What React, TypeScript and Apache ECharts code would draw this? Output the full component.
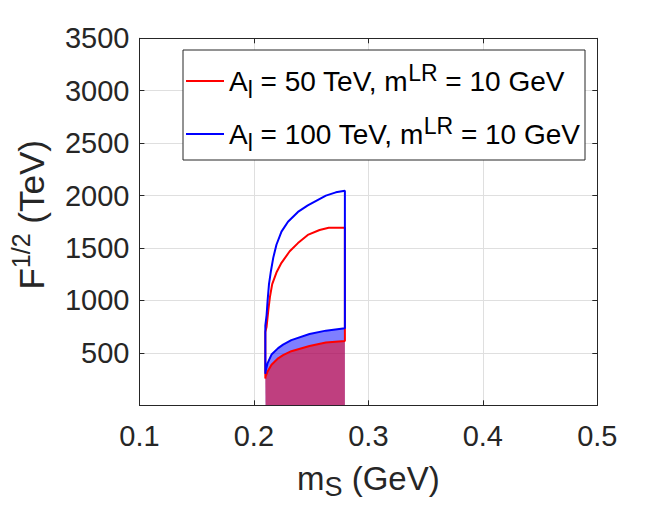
import React, { useEffect, useRef } from "react";
import * as echarts from "echarts";

const FONT = "'Liberation Sans', Arial, Helvetica, sans-serif";
const AXIS_COLOR = "#262626";

// axis ranges
const xMin = 0.1;
const xMax = 0.5;
const xStep = 0.1;
const yMin = 0;
const yMax = 3500;
const yStep = 500;

// series names (legend)
const seriesNames = ["A_l = 50 TeV, m^LR = 10 GeV", "A_l = 100 TeV, m^LR = 10 GeV"];
const legendLabels = [
  "A{sub|l} = 50 TeV, m{sup|LR} = 10 GeV",
  "A{sub|l} = 100 TeV, m{sup|LR} = 10 GeV",
];

// A_l = 50 TeV (red): lower and upper boundaries [m_S, F^1/2]
const redLower: [number, number][] = [
  [0.21, 255], [0.2102, 274], [0.212, 323], [0.2154, 387], [0.2212, 448],
  [0.2255, 478], [0.2327, 516], [0.2486, 565], [0.2629, 598], [0.2795, 614],
];
const redUpper: [number, number][] = [
  [0.21, 700], [0.2111, 750], [0.2126, 906], [0.214, 1031], [0.216, 1156],
  [0.2197, 1266], [0.2241, 1359], [0.2313, 1469], [0.2385, 1547], [0.2471, 1625],
  [0.2574, 1672], [0.2654, 1694], [0.2795, 1694],
];

// A_l = 100 TeV (blue): lower and upper boundaries
const blueLower: [number, number][] = [
  [0.21, 300], [0.2102, 323], [0.212, 403], [0.2154, 484], [0.2212, 545],
  [0.2255, 578], [0.2327, 622], [0.2486, 680], [0.2629, 712], [0.2795, 735],
];
const blueUpper: [number, number][] = [
  [0.21, 760], [0.2111, 860], [0.212, 1000], [0.2132, 1156], [0.2149, 1281],
  [0.2169, 1406], [0.2197, 1531], [0.2241, 1656], [0.2298, 1750], [0.2385, 1844],
  [0.2471, 1906], [0.2629, 2000], [0.2716, 2031], [0.2795, 2047],
];

function outline(lower: [number, number][], upper: [number, number][]) {
  return [...lower, ...upper.slice().reverse(), lower[0]];
}

export default function App() {
  const ref = useRef<HTMLDivElement>(null);
  useEffect(() => {
    if (!ref.current) return;
    const chart = echarts.init(ref.current, undefined, { renderer: "svg" });
    const tickFont = { fontFamily: FONT, fontSize: 29, color: AXIS_COLOR };
    chart.setOption({
      animation: false,
      grid: { left: 134.7, right: 63.7, top: 38.3, bottom: 104.7 },
      legend: {
        data: [
          { name: seriesNames[0], icon: "rect" },
          { name: seriesNames[1], icon: "rect" },
        ],
        orient: "vertical",
        left: 183,
        top: 50,
        padding: [11, 5, 6, 3],
        itemGap: 13,
        itemWidth: 38,
        itemHeight: 2,
        selectedMode: false,
        backgroundColor: "#ffffff",
        borderColor: AXIS_COLOR,
        borderWidth: 1,
        formatter: (name: string) => legendLabels[seriesNames.indexOf(name)],
        textStyle: {
          fontFamily: FONT,
          fontSize: 28,
          color: "#000000",
          lineHeight: 40,
          rich: {
            sub: { fontFamily: FONT, fontSize: 23, lineHeight: 17, verticalAlign: "bottom", color: "#000" },
            sup: { fontFamily: FONT, fontSize: 23, lineHeight: 26, verticalAlign: "top", color: "#000" },
          },
        },
      },
      xAxis: [
        {
          type: "value",
          min: xMin,
          max: xMax,
          interval: xStep,
          name: "m{sub|S} (GeV)",
          nameLocation: "middle",
          nameGap: 51,
          nameTextStyle: {
            fontFamily: FONT,
            fontSize: 33,
            color: AXIS_COLOR,
            lineHeight: 44,
            rich: {
              sub: { fontFamily: FONT, fontSize: 27, lineHeight: 14, verticalAlign: "bottom", color: AXIS_COLOR },
            },
          },
          axisLine: { show: true, onZero: false, lineStyle: { color: AXIS_COLOR, width: 1 } },
          axisTick: { show: true, inside: true, length: 5, lineStyle: { color: AXIS_COLOR } },
          axisLabel: { ...tickFont, margin: 16, formatter: (v: number) => v.toFixed(1) },
          splitLine: { show: true, lineStyle: { color: "#dfdfdf", width: 1 } },
        },
        {
          type: "value",
          position: "top",
          min: xMin,
          max: xMax,
          interval: xStep,
          axisLine: { show: true, onZero: false, lineStyle: { color: AXIS_COLOR, width: 1 } },
          axisTick: { show: true, inside: true, length: 5, lineStyle: { color: AXIS_COLOR } },
          axisLabel: { show: false },
          splitLine: { show: false },
        },
      ],
      yAxis: [
        {
          type: "value",
          min: yMin,
          max: yMax,
          interval: yStep,
          name: "F{sup|1/2} (TeV)",
          nameLocation: "middle",
          nameRotate: 90,
          nameGap: 79,
          nameTextStyle: {
            fontFamily: FONT,
            fontSize: 35,
            color: AXIS_COLOR,
            lineHeight: 46,
            padding: [0, 0, 0, 14],
            rich: {
              sup: { fontFamily: FONT, fontSize: 25, lineHeight: 26, verticalAlign: "top", color: AXIS_COLOR },
            },
          },
          axisLine: { show: true, onZero: false, lineStyle: { color: AXIS_COLOR, width: 1 } },
          axisTick: { show: true, inside: true, length: 5, lineStyle: { color: AXIS_COLOR } },
          axisLabel: { ...tickFont, margin: 10, formatter: (v: number) => (v === 0 ? "" : String(v)) },
          splitLine: { show: true, lineStyle: { color: "#dfdfdf", width: 1 } },
        },
        {
          type: "value",
          position: "right",
          min: yMin,
          max: yMax,
          interval: yStep,
          axisLine: { show: true, onZero: false, lineStyle: { color: AXIS_COLOR, width: 1 } },
          axisTick: { show: true, inside: true, length: 5, lineStyle: { color: AXIS_COLOR } },
          axisLabel: { show: false },
          splitLine: { show: false },
        },
      ],
      series: [
        {
          name: "blueFill",
          type: "line",
          data: blueLower,
          symbol: "none",
          silent: true,
          lineStyle: { width: 0 },
          itemStyle: { color: "rgba(0,0,255,0.5)" },
          areaStyle: { color: "rgba(0,0,255,0.5)", opacity: 1, origin: "start" },
        },
        {
          name: "redFill",
          type: "line",
          data: redLower,
          symbol: "none",
          silent: true,
          lineStyle: { width: 0 },
          itemStyle: { color: "rgba(255,0,0,0.5)" },
          areaStyle: { color: "rgba(255,0,0,0.5)", opacity: 1, origin: "start" },
        },
        {
          name: seriesNames[0],
          type: "line",
          data: outline(redLower, redUpper),
          symbol: "none",
          silent: true,
          itemStyle: { color: "#ff0000" },
          lineStyle: { color: "#ff0000", width: 2 },
        },
        {
          name: seriesNames[1],
          type: "line",
          data: outline(blueLower, blueUpper),
          symbol: "none",
          silent: true,
          itemStyle: { color: "#0000ff" },
          lineStyle: { color: "#0000ff", width: 2 },
        },
      ],
    });
    return () => chart.dispose();
  }, []);
  return (
    <div
      ref={ref}
      style={{ position: "fixed", left: 0, top: 0, width: 661, height: 510, background: "#ffffff" }}
    />
  );
}
